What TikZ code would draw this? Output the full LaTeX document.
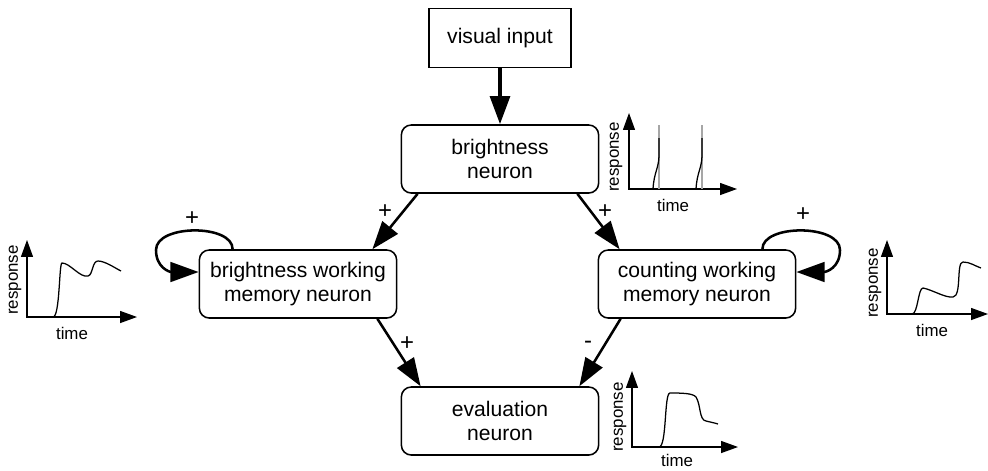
\documentclass[tikz,border=0pt]{standalone}
\usepackage{fontspec}
\setmainfont{Liberation Sans}
\usetikzlibrary{arrows.meta, calc}

\begin{document}
\begin{tikzpicture}[x=0.025cm, y=-0.025cm,
                    box/.style={draw,rounded corners=7pt,line width=1.1pt,minimum width=4.93cm,
                    minimum height=1.7cm,align=center,inner sep=0pt,font=\fontsize{15}{17}\selectfont},
                    inbox/.style={draw,line width=1.1pt,minimum width=3.55cm,minimum height=1.48cm,
                    font=\fontsize{15}{17}\selectfont},
                    arr/.style={-{Triangle[length=20pt,width=14pt]},line width=1.8pt},
                    sgn/.style={font=\fontsize{17}{19}\selectfont,inner sep=0pt},
                    ax/.style={{Triangle[length=12pt,width=8.5pt]}-{Triangle[length=12pt,width=8.5pt]},line width=0.8pt},
                    lbl/.style={font=\fontsize{12}{14}\selectfont,inner sep=0pt},
                    trace/.style={line width=0.9pt},
                    spike/.style={gray!70,line width=0.8pt}
]
\useasboundingbox (0,0) rectangle (988,470);
% neurons
\node[inbox] (vis) at (500,38) {visual input};
\node[box] (bn)  at (500,159) {brightness\\neuron};
\node[box] (bwm) at (298,284) {brightness working\\memory neuron};
\node[box] (cwm) at (697,284) {counting working\\memory neuron};
\node[box] (ev)  at (500,421) {evaluation\\neuron};
% connections
\draw[arr,line width=2.8pt] (vis) -- (bn);
\draw[arr] ($(bn.south west)+(17,0)$) -- ($(bwm.north east)+(-25,0)$);
\draw[arr] ($(bn.south east)+(-22,0)$) -- ($(cwm.north west)+(22,0)$);
\draw[arr] ($(bwm.south east)+(-20,0)$) -- ($(ev.north west)+(20,0)$);
\draw[arr] ($(cwm.south west)+(23,0)$) -- ($(ev.north east)+(-20,0)$);
\draw[arr] ($(bwm.north west)+(34,0)$) .. controls (233,224) and (156,224) .. (156,250)
           .. controls (156,268) and (170,272) .. ($(bwm.west)+(0,-12)$);
\draw[arr] ($(cwm.north east)+(-34,0)$) .. controls (762,224) and (840,224) .. (840,250)
           .. controls (840,268) and (826,272) .. ($(cwm.east)+(0,-12)$);
\node[sgn] (s1) at (385,212) {+};
\node[sgn] (s2) at (605,212) {+};
\node[sgn] (s3) at (407,344) {+};
\node[sgn] (s4) at (588,345) {-};
\node[sgn] (s5) at (192,219) {+};
\node[sgn] (s6) at (803,215) {+};
% response plots
\draw[ax] (629,113) -- (629,189) -- (737,189);
\draw[spike] (659,125) -- (659,189);
\draw[spike] (702,125) -- (702,189);
\draw[trace] (653,189) .. controls (654,172) and (659,168) .. (659,155) -- (659,138);
\draw[trace] (696,189) .. controls (697,172) and (702,168) .. (702,155) -- (702,138);
\node[lbl,rotate=90] (rbn) at (616,157) {response};
\node[lbl] (tbn) at (673,205) {time};

\draw[ax] (27,240) -- (27,317) -- (137,317);
\draw[trace] (27,317) -- (53,317) .. controls (60,317) and (59,263) .. (62,263)
             .. controls (70,263) and (80,278) .. (88,276) .. controls (93,275) and (92,261) .. (98,261)
             .. controls (105,261) and (115,268) .. (121,271);
\node[lbl,rotate=90] (rbwm) at (15,280) {response};
\node[lbl] (tbwm) at (72,333) {time};

\draw[ax] (887,240) -- (887,314) -- (988,314);
\draw[trace] (887,314) -- (912,314) .. controls (918,314) and (918,288) .. (923,288)
             .. controls (933,290) and (945,298) .. (953,297) .. controls (962,296) and (956,262) .. (963,262)
             .. controls (970,262) and (975,266) .. (981,268);
\node[lbl,rotate=90] (rcwm) at (875,283) {response};
\node[lbl] (tcwm) at (932,330) {time};

\draw[ax] (632,371) -- (632,447) -- (738,447);
\draw[trace] (632,447) -- (659,447) .. controls (667,447) and (664,393) .. (670,393)
             .. controls (680,393) and (693,393) .. (696,397) .. controls (701,405) and (699,420) .. (706,421)
             .. controls (710,422) and (715,423) .. (718,424);
\node[lbl,rotate=90] (rev) at (620,417) {response};
\node[lbl] (tev) at (677,460) {time};
\end{tikzpicture}
\end{document}
